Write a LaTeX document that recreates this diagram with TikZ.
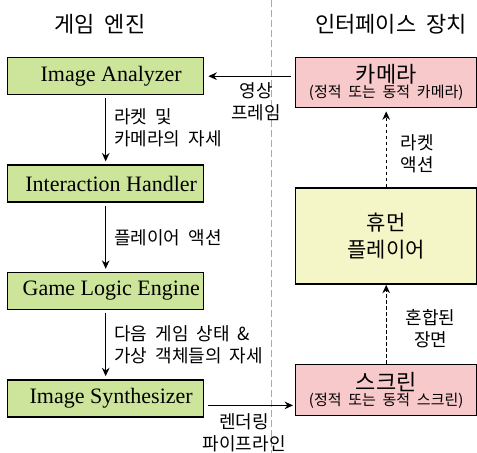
\documentclass[tikz,border=0pt]{standalone}
\usepackage{fontspec}
\setmainfont{Liberation Serif}
\newfontfamily\kr[WordSpace=2]{Noto Sans CJK KR}
\usepackage{xcolor}
\definecolor{cEngine}{HTML}{CCE59B}
\definecolor{cDevice}{HTML}{F7C9CB}
\definecolor{cHuman}{HTML}{F5F6C8}
\definecolor{cDivider}{HTML}{AAAAAA}
\usepackage{tikz}
\usetikzlibrary{positioning,arrows.meta}
\newcommand\tightskip{\lineskiplimit=-20pt\relax}
\newcommand\devsub[1]{{\fontsize{7.5}{8}\selectfont #1}}
\tikzset{
  node-engine/.style={draw=black,line width=0.7pt,fill=cEngine,
    minimum height=18.5pt,minimum width=98pt,inner sep=0pt,
    font=\fontsize{11}{13}\selectfont,
    execute at begin node=\hspace*{5.5pt}},
  node-device/.style={draw=black,line width=0.7pt,fill=cDevice,
    minimum width=90.5pt,inner sep=0pt,align=center,
    font=\kr\fontsize{11}{7.4}\selectfont\tightskip},
  node-human/.style={draw=black,line width=0.7pt,fill=cHuman,
    minimum width=90.5pt,minimum height=48pt,inner sep=0pt,align=center,
    font=\kr\fontsize{10.5}{13.5}\selectfont},
  lbl/.style={font=\kr\fontsize{9}{11}\selectfont,align=left,inner sep=0pt},
  lbl-c/.style={lbl,align=center},
  head-title/.style={font=\kr\fontsize{11}{13}\selectfont,inner sep=0pt},
  arrow/.style={-{Stealth[length=4.2pt,width=3.8pt]},line width=0.6pt},
  arrow-dashed/.style={arrow,dash pattern=on 1.8pt off 1.2pt},
  divider/.style={draw=cDivider,line width=0.5pt,dash pattern=on 3.5pt off 1.5pt},
}
\begin{document}
\begin{tikzpicture}[x=0.5pt,y=-0.5pt,node distance=34.5pt and 46pt]
  \useasboundingbox (0,0) rectangle (477,453);
  \draw[divider] (271,0) -- (271,453);
  \node[head-title] (t-engine) at (100,24) {게임 엔진};
  \node[head-title] (t-device) at (391,24) {인터페이스 장치};
  % game engine
  \node[node-engine,anchor=north west] (ia) at (7,57) {Image Analyzer};
  \node[node-engine,below=of ia]  (ih)  {Interaction Handler};
  \node[node-engine,below=of ih]  (gle) {Game Logic Engine};
  \node[node-engine,below=of gle] (is)  {Image Synthesizer};
  % devices
  \node[node-device,minimum height=25pt,anchor=north west] (cam) at (295,57)
    {카메라\\\devsub{(정적 또는 동적 카메라)}};
  \node[node-human,below=39.5pt of cam] (hp) {휴먼\\플레이어};
  \node[node-device,minimum height=25.5pt,below=39.5pt of hp] (scr)
    {스크린\\\devsub{(정적 또는 동적 스크린)}};
  \coordinate (rp) at ([yshift=-3.5pt]is.east);
  \draw[arrow,shorten <=1.5pt,shorten >=1.5pt] (ia) --
    node[lbl,anchor=west,xshift=4pt,yshift=1pt] (l-pose) {라켓 및\\카메라의 자세} (ih);
  \draw[arrow,shorten <=1.5pt,shorten >=1.5pt] (ih) --
    node[lbl,anchor=west,xshift=4pt] (l-act) {플레이어 액션} (gle);
  \draw[arrow,shorten <=1.5pt,shorten >=1.5pt] (gle) --
    node[lbl,anchor=west,xshift=4pt] (l-state) {다음 게임 상태 \&\\가상 객체들의 자세} (is);
  \draw[arrow,shorten <=2pt,shorten >=2pt] (cam.west |- ia.east) --
    node[lbl-c,below=3pt,pos=0.43] (l-frame) {영상\\프레임} (ia.east);
  \draw[arrow,shorten <=2pt,shorten >=1pt] (rp) --
    node[lbl-c,below=4pt,pos=0.44] (l-render) {렌더링\\파이프라인} (rp -| scr.west);
  \draw[arrow-dashed,shorten >=1.5pt] (hp) --
    node[lbl-c,anchor=west,xshift=7pt,yshift=-3pt] (l-racket) {라켓\\액션} (cam);
  \draw[arrow-dashed] (scr) --
    node[lbl-c,anchor=west,xshift=9.5pt,yshift=-2pt] (l-mix) {혼합된\\장면} (hp);
\end{tikzpicture}
\end{document}
